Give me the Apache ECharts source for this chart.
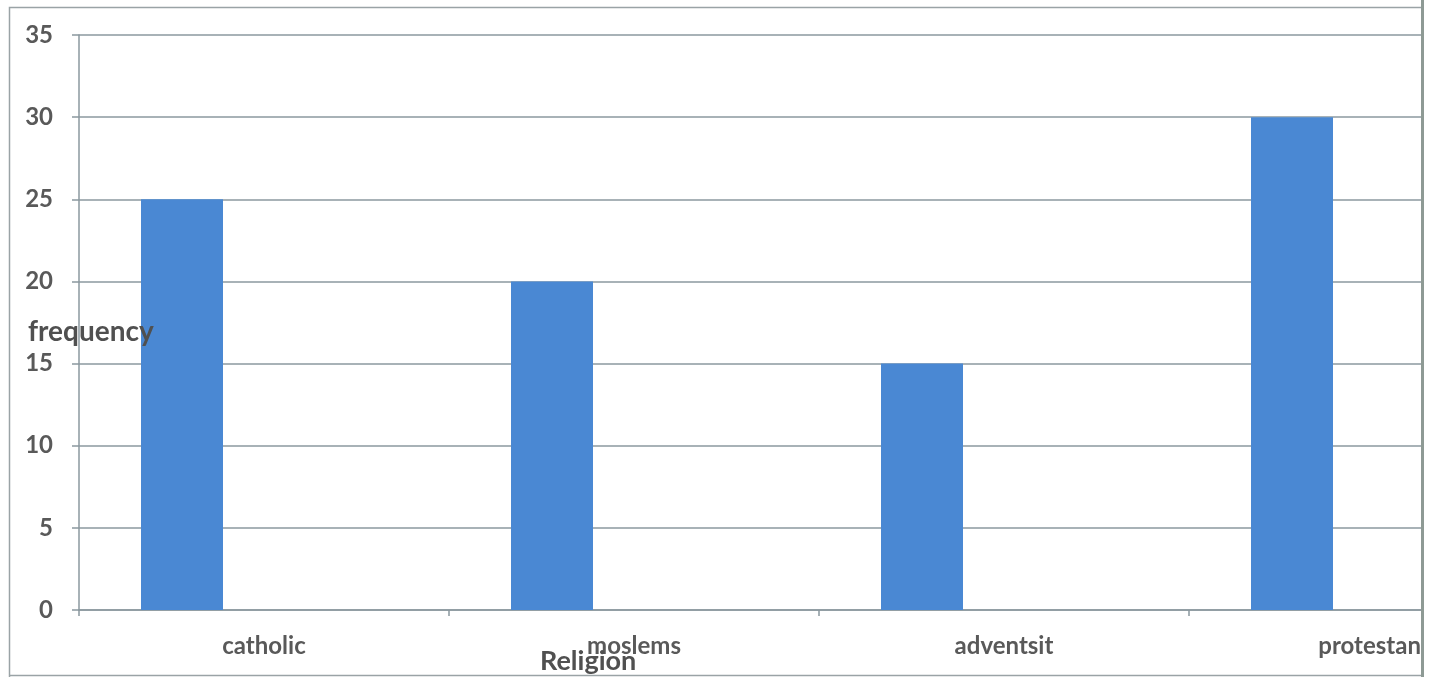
<!DOCTYPE html>
<html>
<head>
<meta charset="utf-8">
<script src="https://cdn.jsdelivr.net/npm/echarts@6/dist/echarts.min.js"></script>
<style>
  html, body { margin: 0; padding: 0; background: #ffffff; }
  #chart { width: 1437px; height: 677px; }
</style>
</head>
<body>
<div id="chart"></div>
<script>
// Religion of respondents: frequency per group
const categories = ['catholic', 'moslems', 'adventsit', 'protestant'];
const frequency = [25, 20, 15, 30];
const yMin = 0;
const yMax = 35;
const yStep = 5;

const textColor = '#595959';
const lineColor = '#8b989f';
const barColor = '#4a88d3';
const font = 'Lato';

const chart = echarts.init(document.getElementById('chart'), null, { renderer: 'canvas' });

chart.setOption({
  animation: false,
  backgroundColor: '#ffffff',
  grid: { left: 79, top: 35, width: 1480, height: 575, outerBoundsMode: 'none', containLabel: false },
  xAxis: {
    type: 'category',
    data: categories,
    boundaryGap: true,
    axisLine: { show: true, lineStyle: { color: lineColor, width: 1.5 } },
    axisTick: { show: true, length: 6, lineStyle: { color: lineColor, width: 1.5 } },
    axisLabel: { color: textColor, fontFamily: font, fontWeight: 'bold', fontSize: 24, margin: 24 },
    splitLine: { show: false }
  },
  yAxis: {
    type: 'value',
    min: yMin,
    max: yMax,
    interval: yStep,
    axisLine: { show: true, lineStyle: { color: lineColor, width: 1.5 } },
    axisTick: { show: true, length: 7, lineStyle: { color: lineColor, width: 1.5 } },
    axisLabel: { color: textColor, fontFamily: font, fontWeight: 'bold', fontSize: 24, margin: 26 },
    splitLine: { show: true, lineStyle: { color: lineColor, width: 1.5 } }
  },
  series: [
    {
      name: 'frequency',
      type: 'bar',
      data: frequency,
      barWidth: 82,
      barGap: '100%',
      itemStyle: { color: barColor }
    },
    {
      // second slot of the cluster, left empty
      name: 'blank',
      type: 'bar',
      data: [],
      barWidth: 82
    }
  ],
  graphic: [
    {
      type: 'text', left: 28, top: 318, z: 100,
      style: { text: 'frequency', fill: '#505050', font: 'bold 28px Lato' }
    },
    {
      type: 'text', left: 540, top: 648, z: 100,
      style: { text: 'Religion', fill: '#505050', font: 'bold 27px Lato' }
    },
    // right edge of the sheet
    {
      type: 'rect', z: 90,
      shape: { x: 1421, y: 0, width: 16, height: 677 },
      style: { fill: '#ffffff' }
    },
    {
      type: 'line', z: 95,
      shape: { x1: 1422.5, y1: 0, x2: 1422.5, y2: 677 },
      style: { stroke: '#8e9a95', lineWidth: 3 }
    },
    // outer frame
    {
      type: 'polyline', z: 95,
      shape: { points: [[9.5, 677], [9.5, 7.5], [1421, 7.5]] },
      style: { stroke: '#9aa3a6', lineWidth: 1.5, fill: null }
    },
    {
      type: 'line', z: 95,
      shape: { x1: 9, y1: 675.5, x2: 1421, y2: 675.5 },
      style: { stroke: '#9aa3a6', lineWidth: 1.5 }
    }
  ]
});
</script>
</body>
</html>
